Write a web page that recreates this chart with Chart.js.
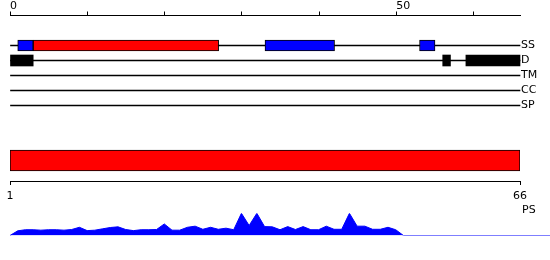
<!DOCTYPE html>
<html>
<head>
<meta charset="utf-8">
<script src="https://cdn.jsdelivr.net/npm/chart.js@4.4.1/dist/chart.umd.min.js"></script>
<style>
  body { margin: 0; background: #fff; }
  #wrap { position: relative; width: 550px; height: 260px; overflow: hidden; }
  canvas { position: absolute; left: 0; }
  #tracks { top: 0; }
  #region { top: 140px; }
  #score { top: 200px; }
  #ps-label { position: absolute; left: 522px; top: 203px; font: 11px 'DejaVu Sans'; color: #000; }
</style>
</head>
<body>
<div id="wrap">
  <canvas id="tracks" width="550" height="115"></canvas>
  <canvas id="region" width="550" height="75"></canvas>
  <canvas id="score" width="550" height="60"></canvas>
  <span id="ps-label">PS</span>
</div>
<script>
// feature tracks (residue spans)
const trackNames = ['SS', 'D', 'TM', 'CC', 'SP'];
const ssBlue = [[1, 3], [33, 42], [53, 55]];
const ssRed = [[3, 27]];
const disorder = [[0, 3], [56, 57], [59, 66]];
const seqLength = 66;
const topTicks = [0, 10, 20, 30, 40, 50, 60];
const topLabels = [0, 50];

// PS region + its axis
const regionSpan = [1, 66];
const regionTicks = [1, 66];

// PS score profile
const psPositions = [
  0, 1, 2, 3, 4, 5, 6, 7, 8, 9, 10, 11, 12, 13, 14, 15, 16, 17, 18, 19, 20,
  21, 22, 23, 24, 25, 26, 27, 28, 29, 30, 31, 32, 33, 34, 35, 36, 37, 38, 39, 40,
  41, 42, 43, 44, 45, 46, 47, 48, 49, 50, 51, 70
];
const psScores = [
  0, 0.21, 0.26, 0.26, 0.24, 0.26, 0.26, 0.24, 0.27, 0.37, 0.22, 0.24, 0.30, 0.36, 0.39, 0.27, 0.22, 0.26, 0.26, 0.27, 0.52,
  0.24, 0.24, 0.37, 0.42, 0.28, 0.37, 0.28, 0.33, 0.26, 1.0, 0.45, 1.0, 0.40, 0.39, 0.26, 0.40, 0.27, 0.40, 0.26, 0.26,
  0.42, 0.28, 0.28, 1.0, 0.42, 0.42, 0.28, 0.28, 0.37, 0.26, 0, 0
];

const labelFont = { family: 'DejaVu Sans', size: 11, lineHeight: 1 };
const noPlugins = { legend: { display: false }, tooltip: { enabled: false } };

const spans = (list, track) => list.map(s => ({ y: track, x: s }));

new Chart(document.getElementById('tracks'), {
  type: 'bar',
  data: {
    labels: ['', ' ', ...trackNames],
    datasets: [
      { data: spans(ssRed, 'SS'), backgroundColor: '#ff0000', borderColor: '#000', borderWidth: 1, barThickness: 11 },
      { data: spans(ssBlue, 'SS'), backgroundColor: '#0000ff', borderColor: '#000', borderWidth: 1, barThickness: 11 },
      { data: spans(disorder, 'D'), backgroundColor: '#000', borderWidth: 0, barThickness: 11 },
      { data: trackNames.map(t => ({ y: t, x: [0, seqLength] })), backgroundColor: '#000', borderWidth: 0, barThickness: 1 }
    ]
  },
  options: {
    indexAxis: 'y',
    responsive: false,
    animation: false,
    devicePixelRatio: 1,
    layout: { padding: { left: 10, bottom: 9.5 } },
    plugins: noPlugins,
    datasets: { bar: { grouped: false, borderSkipped: false, clip: false } },
    scales: {
      x: {
        type: 'linear',
        position: 'top',
        min: 0,
        max: seqLength,
        afterBuildTicks: s => { s.ticks = topTicks.map(v => ({ value: v })); },
        ticks: {
          align: 'start', padding: 0, color: '#000', font: labelFont, maxRotation: 0, autoSkip: false,
          callback: v => topLabels.includes(v) ? String(v) : ''
        },
        grid: { drawOnChartArea: false, tickLength: 4, color: '#000' },
        border: { color: '#000' },
        afterFit: s => { s.height = 15.5; }
      },
      y: {
        type: 'category',
        position: 'right',
        offset: false,
        grid: { display: false, drawTicks: false },
        border: { display: false },
        ticks: { padding: 1, color: '#000', font: labelFont, autoSkip: false },
        afterFit: s => { s.width = 30; }
      }
    }
  }
});

new Chart(document.getElementById('region'), {
  type: 'bar',
  data: {
    labels: ['PS'],
    datasets: [{ data: [regionSpan], backgroundColor: '#ff0000', borderColor: '#000', borderWidth: 1, borderSkipped: false, barThickness: 21 }]
  },
  options: {
    indexAxis: 'y',
    responsive: false,
    animation: false,
    devicePixelRatio: 1,
    layout: { padding: { left: 10, right: 30 } },
    plugins: noPlugins,
    scales: {
      x: {
        type: 'linear',
        min: regionTicks[0],
        max: regionTicks[1],
        afterBuildTicks: s => { s.ticks = regionTicks.map(v => ({ value: v })); },
        ticks: { padding: 6, color: '#000', font: labelFont, maxRotation: 0, autoSkip: false },
        grid: { drawOnChartArea: false, tickLength: 4, color: '#000' },
        border: { color: '#000' },
        afterFit: s => { s.height = 34; }
      },
      y: { display: false }
    }
  }
});

new Chart(document.getElementById('score'), {
  type: 'line',
  data: {
    datasets: [{
      data: psPositions.map((x, i) => ({ x, y: psScores[i] })),
      borderColor: '#0000ff',
      backgroundColor: '#0000ff',
      fill: 'origin',
      borderWidth: 1,
      pointRadius: 0,
      tension: 0
    }]
  },
  options: {
    responsive: false,
    animation: false,
    devicePixelRatio: 1,
    layout: { padding: { left: 10, top: 13.3, bottom: 24.5 } },
    plugins: noPlugins,
    scales: {
      x: { type: 'linear', display: false, min: 0, max: 70 },
      y: { display: false, min: 0, max: 1 }
    }
  }
});
</script>
</body>
</html>
